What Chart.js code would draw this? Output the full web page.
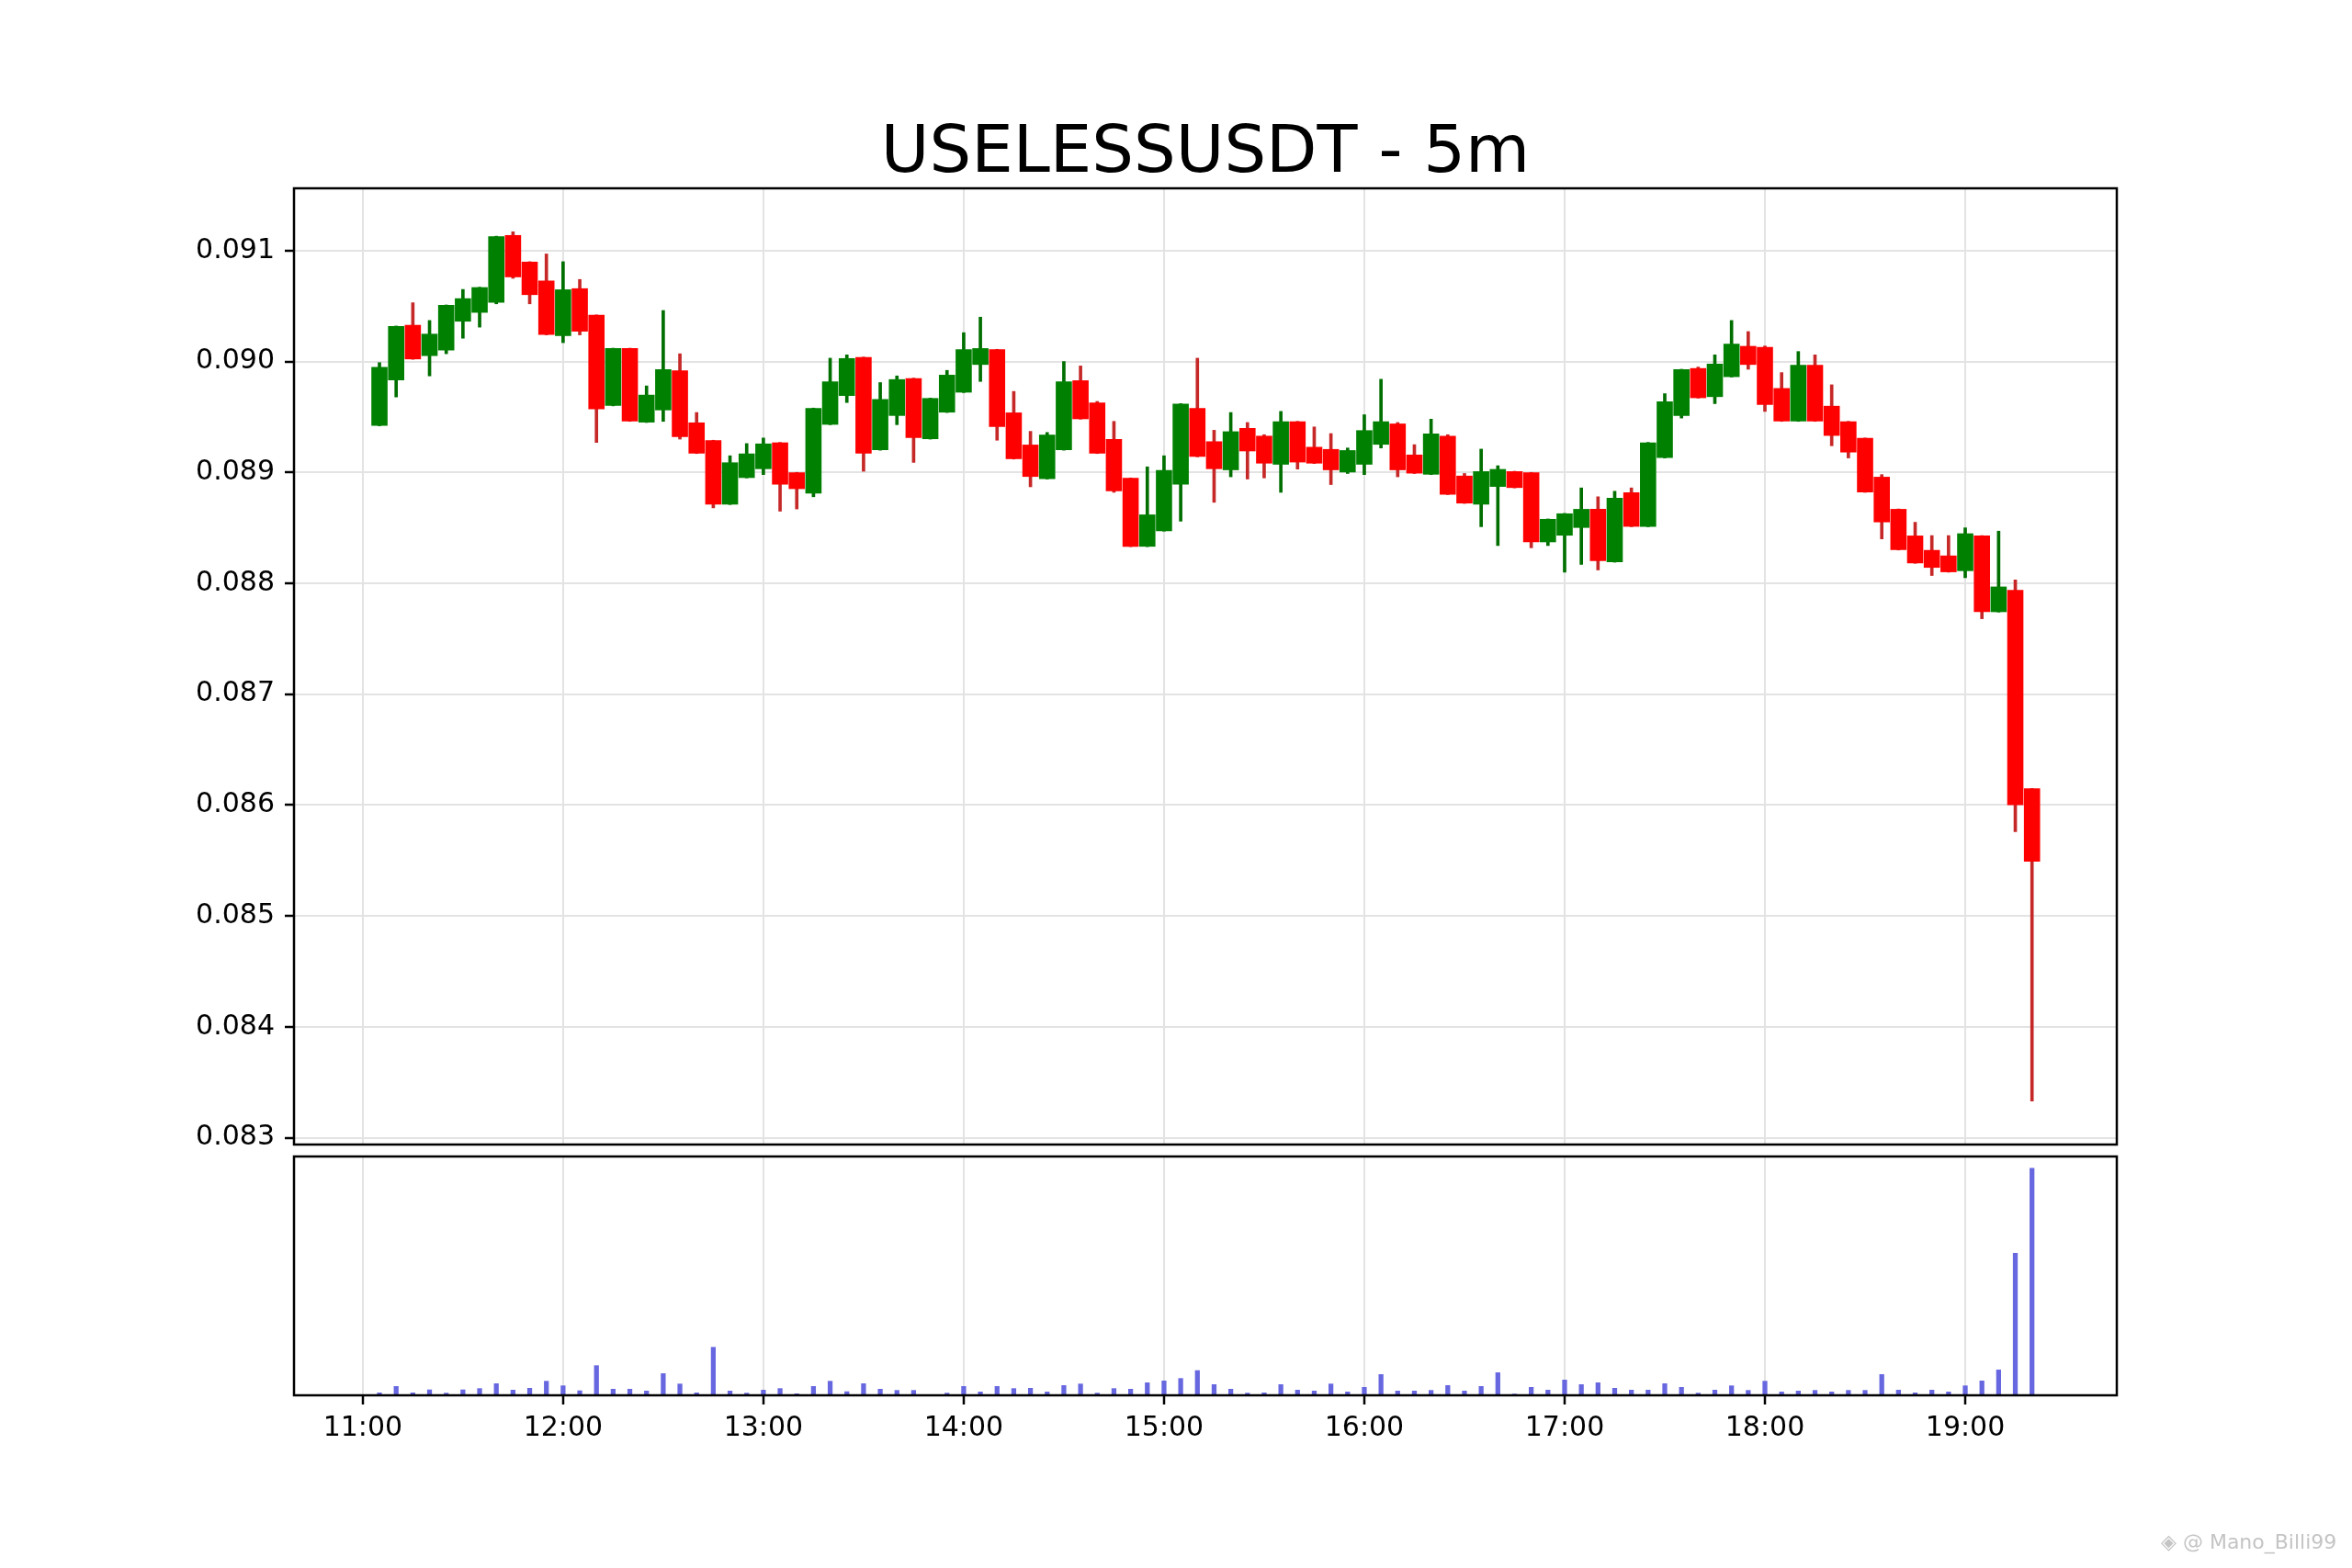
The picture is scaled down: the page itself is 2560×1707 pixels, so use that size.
<!DOCTYPE html>
<html>
<head>
<meta charset="utf-8">
<script src="https://cdn.jsdelivr.net/npm/chart.js@4.4.1/dist/chart.umd.min.js"></script>
<style>
  html, body { margin: 0; padding: 0; background: #fff; }
  body { width: 2560px; height: 1707px; position: relative; overflow: hidden; }
  canvas { position: absolute; left: 0; top: 0; }
  #marca { position: absolute; left: 2352px; top: 1668px; font: 22px/22px 'DejaVu Sans', sans-serif; color: #c4c4c4; white-space: nowrap; }
</style>
</head>
<body>
<canvas id="velas" width="2560" height="1707"></canvas>
<canvas id="volumen" width="2560" height="1707"></canvas>
<div id="marca">◈ @ Mano_Billi99</div>
<script>
const horas = [
  '11:05', '11:10', '11:15', '11:20', '11:25', '11:30', '11:35', '11:40', '11:45', '11:50', '11:55',
  '12:00', '12:05', '12:10', '12:15', '12:20', '12:25', '12:30', '12:35', '12:40', '12:45', '12:50', '12:55',
  '13:00', '13:05', '13:10', '13:15', '13:20', '13:25', '13:30', '13:35', '13:40', '13:45', '13:50', '13:55',
  '14:00', '14:05', '14:10', '14:15', '14:20', '14:25', '14:30', '14:35', '14:40', '14:45', '14:50', '14:55',
  '15:00', '15:05', '15:10', '15:15', '15:20', '15:25', '15:30', '15:35', '15:40', '15:45', '15:50', '15:55',
  '16:00', '16:05', '16:10', '16:15', '16:20', '16:25', '16:30', '16:35', '16:40', '16:45', '16:50', '16:55',
  '17:00', '17:05', '17:10', '17:15', '17:20', '17:25', '17:30', '17:35', '17:40', '17:45', '17:50', '17:55',
  '18:00', '18:05', '18:10', '18:15', '18:20', '18:25', '18:30', '18:35', '18:40', '18:45', '18:50', '18:55',
  '19:00', '19:05', '19:10', '19:15', '19:20'
];

const aperturas = [
  0.08942, 0.08983, 0.09033, 0.09005, 0.09010, 0.09036, 0.09044, 0.09053, 0.09114, 0.09090, 0.09073,
  0.09023, 0.09066, 0.09042, 0.08960, 0.09012, 0.08945, 0.08956, 0.08992, 0.08945, 0.08929, 0.08871, 0.08895,
  0.08903, 0.08927, 0.08900, 0.08881, 0.08943, 0.08969, 0.09004, 0.08920, 0.08951, 0.08985, 0.08930, 0.08954,
  0.08972, 0.08997, 0.09011, 0.08954, 0.08925, 0.08894, 0.08920, 0.08983, 0.08963, 0.08930, 0.08895, 0.08833,
  0.08847, 0.08889, 0.08958, 0.08928, 0.08902, 0.08940, 0.08933, 0.08907, 0.08946, 0.08923, 0.08921, 0.08900,
  0.08907, 0.08925, 0.08944, 0.08916, 0.08898, 0.08933, 0.08897, 0.08871, 0.08887, 0.08901, 0.08900, 0.08837,
  0.08843, 0.08850, 0.08867, 0.08819, 0.08882, 0.08851, 0.08913, 0.08951, 0.08994, 0.08968, 0.08986, 0.09014,
  0.09013, 0.08976, 0.08946, 0.08997, 0.08960, 0.08946, 0.08931, 0.08896, 0.08867, 0.08843, 0.08830, 0.08825,
  0.08811, 0.08843, 0.08774, 0.08794, 0.08615
];
const maximos = [
  0.08999, 0.09032, 0.09053, 0.09037, 0.09051, 0.09065, 0.09067, 0.09113, 0.09117, 0.09090, 0.09097,
  0.09090, 0.09074, 0.09042, 0.09012, 0.09012, 0.08978, 0.09046, 0.09007, 0.08954, 0.08929, 0.08915, 0.08926,
  0.08931, 0.08927, 0.08900, 0.08958, 0.09003, 0.09006, 0.09004, 0.08981, 0.08987, 0.08985, 0.08967, 0.08992,
  0.09026, 0.09040, 0.09011, 0.08973, 0.08937, 0.08936, 0.09000, 0.08996, 0.08964, 0.08946, 0.08895, 0.08905,
  0.08915, 0.08962, 0.09003, 0.08938, 0.08954, 0.08945, 0.08934, 0.08955, 0.08946, 0.08941, 0.08935, 0.08922,
  0.08952, 0.08984, 0.08945, 0.08925, 0.08948, 0.08934, 0.08899, 0.08921, 0.08906, 0.08901, 0.08900, 0.08858,
  0.08863, 0.08886, 0.08878, 0.08883, 0.08886, 0.08927, 0.08971, 0.08993, 0.08995, 0.09006, 0.09037, 0.09027,
  0.09014, 0.08990, 0.09009, 0.09006, 0.08979, 0.08946, 0.08931, 0.08898, 0.08867, 0.08855, 0.08843, 0.08843,
  0.08850, 0.08843, 0.08847, 0.08803, 0.08615
];
const minimos = [
  0.08942, 0.08968, 0.09002, 0.08987, 0.09007, 0.09021, 0.09031, 0.09052, 0.09075, 0.09052, 0.09024,
  0.09017, 0.09024, 0.08927, 0.08960, 0.08946, 0.08945, 0.08946, 0.08930, 0.08917, 0.08868, 0.08871, 0.08895,
  0.08898, 0.08865, 0.08867, 0.08878, 0.08943, 0.08963, 0.08901, 0.08920, 0.08943, 0.08909, 0.08930, 0.08954,
  0.08972, 0.08982, 0.08929, 0.08912, 0.08887, 0.08894, 0.08920, 0.08948, 0.08917, 0.08882, 0.08833, 0.08833,
  0.08847, 0.08856, 0.08914, 0.08873, 0.08896, 0.08894, 0.08895, 0.08882, 0.08903, 0.08908, 0.08889, 0.08899,
  0.08898, 0.08922, 0.08896, 0.08899, 0.08898, 0.08880, 0.08872, 0.08851, 0.08834, 0.08886, 0.08832, 0.08834,
  0.08810, 0.08817, 0.08812, 0.08819, 0.08851, 0.08851, 0.08913, 0.08949, 0.08967, 0.08962, 0.08986, 0.08993,
  0.08955, 0.08946, 0.08946, 0.08946, 0.08924, 0.08913, 0.08882, 0.08840, 0.08830, 0.08818, 0.08807, 0.08810,
  0.08805, 0.08768, 0.08774, 0.08576, 0.08333
];
const cierres = [
  0.08995, 0.09032, 0.09002, 0.09025, 0.09051, 0.09057, 0.09067, 0.09113, 0.09076, 0.09060, 0.09024,
  0.09065, 0.09027, 0.08957, 0.09012, 0.08946, 0.08970, 0.08993, 0.08932, 0.08917, 0.08871, 0.08909, 0.08917,
  0.08926, 0.08889, 0.08885, 0.08958, 0.08982, 0.09003, 0.08917, 0.08966, 0.08984, 0.08931, 0.08967, 0.08988,
  0.09011, 0.09012, 0.08941, 0.08912, 0.08896, 0.08934, 0.08982, 0.08948, 0.08917, 0.08883, 0.08833, 0.08862,
  0.08902, 0.08962, 0.08914, 0.08903, 0.08937, 0.08919, 0.08908, 0.08946, 0.08909, 0.08908, 0.08902, 0.08920,
  0.08938, 0.08946, 0.08902, 0.08899, 0.08935, 0.08880, 0.08872, 0.08901, 0.08903, 0.08886, 0.08837, 0.08858,
  0.08863, 0.08867, 0.08820, 0.08877, 0.08851, 0.08927, 0.08964, 0.08993, 0.08967, 0.08998, 0.09016, 0.08997,
  0.08961, 0.08946, 0.08997, 0.08946, 0.08933, 0.08918, 0.08882, 0.08855, 0.08830, 0.08818, 0.08814, 0.08810,
  0.08845, 0.08774, 0.08797, 0.08600, 0.08549
];
const volumenes = [
  3, 10, 3, 6.3, 2.7, 6.3, 7.7, 13, 6, 8, 15.7,
  10.7, 5.3, 32.7, 7, 7, 5, 24, 12.7, 3, 52.7, 5, 2.7,
  6, 7.7, 2, 10, 15.7, 4.3, 13, 7, 5.7, 5.7, 0.7, 2.7,
  10, 4, 10, 7.7, 8, 4, 11, 12.7, 2.7, 7.7, 7, 14,
  16, 18.7, 27.3, 12, 7, 2.7, 3, 12, 6, 5, 12.7, 4,
  9, 23, 5, 5, 5.7, 11, 5, 10, 25, 1.7, 9, 6,
  17, 12, 14, 8, 6, 6, 13, 9, 2.7, 6, 10.7, 5.7,
  15.7, 4, 5, 5.7, 4, 5.7, 5.7, 23, 6, 3, 6, 4,
  10.7, 16, 28, 155.3, 248
];

const marcasPrecio = [0.083, 0.084, 0.085, 0.086, 0.087, 0.088, 0.089, 0.090, 0.091];
const marcasHora = ['11:00', '12:00', '13:00', '14:00', '15:00', '16:00', '17:00', '18:00', '19:00'];

const aMinutos = (h) => {
  const [hh, mm] = h.split(':').map(Number);
  return hh * 60 + mm;
};
const aTexto = (m) => String(Math.floor(m / 60)).padStart(2, '0') + ':' + String(Math.round(m % 60)).padStart(2, '0');

const puntos = horas.map(aMinutos);
const alcista = cierres.map((c, i) => c >= aperturas[i]);

// margenes como matplotlib (5%)
const xMin = puntos[0] - 25.6;
const xMax = puntos[puntos.length - 1] + 25.4;
const yBajo = Math.min(...minimos);
const yAlto = Math.max(...maximos);
const yMin = yBajo - (yAlto - yBajo) * 0.05;
const yMax = yAlto + (yAlto - yBajo) * 0.05;

const fuente = { family: "'DejaVu Sans', sans-serif", size: 30 };
const gris = '#e3e3e3';

const marco = {
  id: 'marco',
  afterDraw(chart) {
    const { ctx, chartArea: a } = chart;
    ctx.save();
    ctx.strokeStyle = '#000';
    ctx.lineWidth = 2.5;
    ctx.strokeRect(a.left, a.top, a.right - a.left, a.bottom - a.top);
    ctx.restore();
  }
};

const ejeHoras = (eje) => {
  eje.ticks = marcasHora.map((h) => ({ value: aMinutos(h) }));
};

new Chart(document.getElementById('velas'), {
  type: 'bar',
  data: {
    datasets: [
      {
        // cuerpos
        data: puntos.map((x, i) => ({ x, y: [aperturas[i], cierres[i]] })),
        backgroundColor: alcista.map((a) => (a ? '#008000' : '#ff0000')),
        grouped: false,
        barPercentage: 0.97,
        categoryPercentage: 1,
        minBarLength: 2,
        order: 1
      },
      {
        // mechas
        data: puntos.map((x, i) => ({ x, y: [minimos[i], maximos[i]] })),
        backgroundColor: alcista.map((a) => (a ? '#006f00' : '#c62828')),
        grouped: false,
        barThickness: 3,
        order: 2
      }
    ]
  },
  options: {
    responsive: false,
    animation: false,
    devicePixelRatio: 1,
    layout: {
      padding: { left: 0, right: 256, top: 0, bottom: 461 }
    },
    plugins: {
      legend: { display: false },
      tooltip: { enabled: false },
      title: {
        display: true,
        text: 'USELESSUSDT - 5m',
        fullSize: false,
        color: '#000',
        font: { family: "'DejaVu Sans', sans-serif", size: 72, weight: 'normal', lineHeight: 1 },
        padding: { top: 132, bottom: 1 }
      }
    },
    scales: {
      x: {
        type: 'linear',
        min: xMin,
        max: xMax,
        bounds: 'data',
        offset: false,
        grid: { offset: false, color: gris, lineWidth: 2, drawTicks: false },
        border: { display: false },
        ticks: { display: false },
        afterBuildTicks: ejeHoras,
        afterFit: (eje) => {
          eje.height = 0;
        }
      },
      y: {
        min: yMin,
        max: yMax,
        bounds: 'data',
        grid: { color: gris, lineWidth: 2, tickColor: '#000', tickLength: 10, tickWidth: 2.5 },
        border: { display: false },
        ticks: {
          color: '#000',
          font: fuente,
          padding: 11,
          callback: (v) => Number(v).toFixed(3)
        },
        afterBuildTicks: (eje) => {
          eje.ticks = marcasPrecio.map((v) => ({ value: v }));
        },
        afterFit: (eje) => {
          eje.width = 320;
          eje.paddingTop = 0;
          eje.paddingBottom = 0;
        }
      }
    }
  },
  plugins: [marco]
});

new Chart(document.getElementById('volumen'), {
  type: 'bar',
  data: {
    datasets: [{
      data: puntos.map((x, i) => ({ x, y: volumenes[i] })),
      backgroundColor: '#6767e0',
      barPercentage: 0.29,
      categoryPercentage: 1
    }]
  },
  options: {
    responsive: false,
    animation: false,
    devicePixelRatio: 1,
    layout: {
      padding: { left: 320, right: 256, top: 1259, bottom: 128 }
    },
    plugins: {
      legend: { display: false },
      tooltip: { enabled: false }
    },
    scales: {
      x: {
        type: 'linear',
        min: xMin,
        max: xMax,
        bounds: 'data',
        offset: false,
        grid: { offset: false, color: gris, lineWidth: 2, tickColor: '#000', tickLength: 10, tickWidth: 2.5 },
        border: { display: false },
        ticks: {
          color: '#000',
          font: fuente,
          padding: 8,
          maxRotation: 0,
          autoSkip: false,
          callback: (v) => aTexto(v)
        },
        afterBuildTicks: ejeHoras,
        afterFit: (eje) => {
          eje.height = 60;
          eje.paddingLeft = 0;
          eje.paddingRight = 0;
        }
      },
      y: {
        display: false,
        min: 0,
        max: Math.max(...volumenes) * 1.05
      }
    }
  },
  plugins: [marco]
});
</script>
</body>
</html>
